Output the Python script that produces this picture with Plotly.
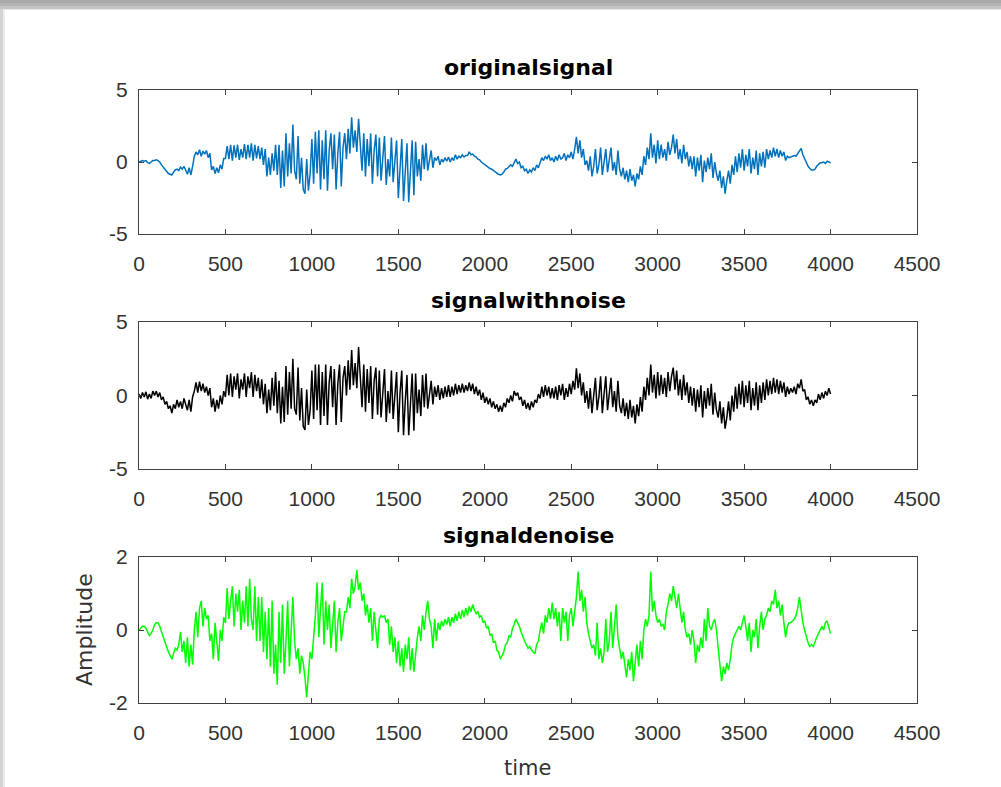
import plotly.graph_objects as go

# ---------------- data (one value every 10 time units, 0..4000) ----------------
original_signal = [
    0.0, 0.05, 0.1, 0.05, 0.1, -0.05, -0.1, 0.0, 0.1, 0.1,
    0.15, 0.1, 0.0, -0.2, -0.35, -0.5, -0.65, -0.8, -0.85, -0.9,
    -0.7, -0.55, -0.5, -0.6, -0.35, -0.5, -0.3, -0.55, -0.85, -0.4,
    -0.9, -0.3, 0.4, 0.7, 0.5, 0.85, 0.4, 0.75, 0.55, 0.8,
    0.3, 0.6, -0.55, -0.3, -0.8, -0.4, -0.75, -0.2, -0.5, 0.25,
    0.25, 1.1, 0.2, 1.2, 0.1, 1.15, 0.3, 1.2, 0.15, 0.9,
    0.3, 1.25, 0.2, 1.2, 0.3, 1.3, 0.1, 1.2, 0.25, 1.1,
    0.2, 1.0, -0.2, 0.9, -1.0, 0.3, -0.9, 0.6, -0.6, 1.2,
    -0.9, 1.2, -1.8, 0.8, -1.7, 2.0, -1.0, 1.3, -0.8, 2.6,
    -0.6, -1.2, 1.8, -1.5, 0.3, -1.9, -2.2, 0.2, -2.0, -0.8,
    1.6, -1.5, 2.1, -0.8, 2.2, -1.9, 1.5, -1.2, 2.2, -2.0,
    0.8, 2.0, -0.5, 1.9, -1.9, 0.6, 2.1, -1.7, 1.0, 2.0,
    0.2, 2.3, 0.6, 3.1, 1.0, 2.2, 0.7, 3.0, 1.2, -0.6,
    2.0, -1.0, 1.6, -0.3, 2.0, -1.5, 0.8, 1.9, -1.0, 1.7,
    -1.3, 0.4, 1.8, -1.6, 0.2, -1.0, 1.7, -1.4, 0.0, 1.5,
    -2.5, 0.0, 1.6, -2.7, -0.6, 1.3, -2.8, -0.8, 1.5, -2.3,
    1.4, -1.0, 0.2, -1.3, 1.2, -0.5, 1.3, -0.6, 0.0, 0.8,
    -0.4, 0.3, 0.1, 0.4, -0.2, 0.2, 0.0, 0.3, 0.05, 0.35,
    0.0, 0.3, 0.1, 0.5, 0.2, 0.4, 0.3, 0.5, 0.35, 0.45,
    0.45, 0.7, 0.5, 0.55, 0.4, 0.35, 0.2, 0.15, 0.0, -0.1,
    -0.2, -0.3, -0.35, -0.45, -0.5, -0.6, -0.7, -0.8, -0.85, -0.9,
    -0.85, -0.7, -0.5, -0.45, -0.3, -0.2, -0.3, -0.05, 0.2, -0.1,
    0.0, -0.4, -0.3, -0.6, -0.5, -0.8, -0.55, -0.7, -0.4, -0.6,
    -0.2, -0.4, 0.0, 0.3, 0.1, 0.4, 0.2, 0.5, 0.1, 0.3,
    0.0, 0.4, 0.1, 0.5, 0.2, 0.3, 0.6, 0.1, 0.5, 0.3,
    0.7, 0.2, 0.9, 1.75, 0.6, 1.5, 0.3, 0.9, -0.2, 0.1,
    -0.6, 0.4, -1.0, -0.3, 0.9, -0.8, -0.2, 1.0, -0.9, -0.1,
    0.9, -0.7, 0.2, 1.0, -0.6, 0.0, -0.9, 0.8, -0.5, -1.0,
    -0.4, -1.2, -0.6, -1.4, -0.5, -1.3, -0.9, -1.7, -0.8, -1.2,
    -0.3, -0.9, 0.4, -0.2, 1.0, 0.2, 2.0, 0.3, 1.2, -0.1,
    1.5, 0.2, 1.2, 0.3, 0.9, 0.1, 1.4, 0.5, 1.0, 1.9,
    0.6, 1.6, 0.2, 0.9, -0.1, 1.2, 0.2, 0.7, -0.3, 0.4,
    -0.5, 0.4, -1.0, 0.3, -0.6, 0.5, -1.4, 0.1, -0.7, 0.3,
    -0.5, 0.6, -1.1, 0.0, -0.8, -1.3, -0.6, -1.8, -1.0, -2.2,
    -1.3, -0.6, -1.5, -0.2, -0.9, 0.4, -0.7, 0.6, -0.4, 0.9,
    -0.6, 0.5, -0.3, 0.9, -0.8, 0.3, -0.5, 0.8, -0.9, 0.6,
    -0.3, 0.7, -0.4, 0.9, 0.2, 0.8, 0.3, 1.0, 0.4, 0.9,
    0.3, 0.8, 0.4, 0.7, 0.1, 0.4, 0.3, 0.35, 0.4, 0.45,
    0.4, 0.6, 0.75, 0.95, 0.5, 0.2, -0.1, -0.3, -0.45, -0.55,
    -0.55, -0.5, -0.3, -0.2, -0.05, -0.05, 0.0, -0.1, 0.05, 0.0,
    -0.05,
]

signal_with_noise = [
    0.1, -0.2, 0.2, -0.1, 0.25, -0.25, 0.1, -0.2, 0.3, 0.0,
    0.3, -0.1, 0.2, -0.3, -0.1, -0.6, -0.4, -0.9, -0.7, -1.2,
    -0.6, -0.9, -0.3, -0.8, -0.4, -0.9, -0.2, -0.7, -1.0, -0.3,
    -1.1, -0.1, 0.3, 0.9, 0.2, 0.95, 0.3, 0.8, 0.2, 0.6,
    0.0, 0.5, -0.8, -0.2, -1.1, -0.3, -0.9, 0.0, -0.6, 0.3,
    -0.1, 1.4, 0.0, 1.5, -0.1, 1.3, 0.4, 1.5, -0.2, 1.1,
    0.4, 1.5, -0.1, 1.3, 0.5, 1.6, -0.1, 1.4, 0.3, 1.2,
    -0.2, 1.1, -0.6, 0.8, -1.2, 0.4, -1.0, 1.2, -0.7, 1.6,
    -1.2, 1.0, -1.9, 0.6, -1.8, 2.0, -1.3, 1.6, -0.9, 2.5,
    -0.9, -1.3, 1.9, -1.7, 0.5, -2.1, -2.35, 0.4, -2.0, -1.0,
    1.7, -1.6, 2.1, -1.0, 2.1, -2.0, 1.6, -1.4, 2.1, -2.0,
    0.9, 2.0, -0.8, 1.8, -2.0, 0.8, 2.1, -1.8, 1.2, 2.0,
    0.0, 2.4, 0.4, 3.1, 0.7, 2.2, 0.5, 3.3, 1.0, -0.8,
    2.1, -1.1, 1.8, -0.5, 2.0, -1.6, 1.0, 1.9, -1.3, 1.7,
    -1.5, 0.6, 1.8, -1.8, 0.3, -1.2, 1.7, -1.6, 0.2, 1.6,
    -2.5, 0.2, 1.7, -2.7, -0.4, 1.4, -2.7, -0.6, 1.5, -2.4,
    1.5, -1.2, 0.4, -1.4, 1.4, -0.8, 1.5, -0.9, 0.3, 1.0,
    -0.6, 0.6, -0.1, 0.7, -0.3, 0.5, -0.2, 0.6, -0.1, 0.7,
    -0.1, 0.6, 0.0, 0.8, 0.1, 0.7, 0.2, 0.8, 0.2, 0.7,
    0.3, 0.9, 0.3, 0.8, 0.1, 0.6, 0.0, 0.4, -0.3, 0.2,
    -0.5, -0.1, -0.6, -0.2, -0.8, -0.4, -0.9, -0.6, -1.1, -0.7,
    -1.1, -0.5, -0.8, -0.2, -0.5, 0.0, -0.4, 0.3, 0.0, 0.2,
    -0.3, -0.1, -0.7, -0.3, -0.9, -0.5, -1.0, -0.4, -0.8, -0.3,
    -0.5, 0.1, -0.2, 0.6, -0.1, 0.7, 0.0, 0.6, -0.2, 0.5,
    -0.2, 0.6, -0.3, 0.7, 0.0, 0.8, -0.3, 0.5, -0.1, 0.8,
    0.1, 1.0, 0.4, 1.85, 0.5, 1.5, 0.0, 0.9, -0.5, 0.3,
    -0.9, 0.5, -1.2, 0.0, 1.2, -1.0, -0.1, 1.3, -1.2, 0.1,
    1.3, -1.0, 0.4, 1.2, -0.8, 0.3, -1.1, 1.0, -0.7, -1.2,
    -0.2, -1.4, -0.5, -1.6, -0.3, -1.5, -0.7, -1.9, -0.6, -1.4,
    -0.1, -1.1, 0.6, -0.3, 1.2, 0.0, 2.1, 0.2, 1.4, -0.2,
    1.6, 0.0, 1.4, 0.1, 1.2, -0.1, 1.6, 0.3, 1.3, 1.9,
    0.4, 1.7, 0.0, 1.1, -0.3, 1.4, 0.0, 0.9, -0.5, 0.6,
    -0.7, 0.5, -1.1, 0.4, -0.8, 0.7, -1.5, 0.3, -0.9, 0.5,
    -0.7, 0.8, -1.3, 0.2, -1.0, -1.5, -0.4, -1.9, -0.8, -2.25,
    -1.5, -0.4, -1.7, 0.0, -1.1, 0.6, -0.9, 0.8, -0.6, 1.0,
    -0.8, 0.7, -0.5, 1.0, -1.0, 0.5, -0.7, 0.9, -1.0, 0.7,
    -0.5, 0.9, -0.3, 1.1, 0.0, 1.0, 0.1, 1.2, 0.2, 1.1,
    0.1, 1.0, 0.2, 0.9, -0.1, 0.6, 0.1, 0.5, 0.2, 0.6,
    0.1, 0.8, 0.5, 1.1, 0.3, 0.4, -0.3, -0.1, -0.6, -0.3,
    -0.7, -0.3, -0.5, 0.1, -0.3, 0.2, -0.2, 0.3, 0.0, 0.5,
    0.1,
]

signal_denoise = [
    0.0, 0.05, 0.1, 0.1, 0.05, -0.05, -0.15, -0.1, 0.0, 0.15,
    0.2, 0.2, 0.1, -0.05, -0.2, -0.35, -0.5, -0.6, -0.7, -0.8,
    -0.65, -0.5, -0.55, -0.4, -0.05, -0.6, -0.3, -0.9, -0.2, -1.0,
    -0.4, -0.95, 0.0, 0.5, -0.2, 0.6, 0.8, 0.1, 0.6, 0.3,
    0.4, -0.3, -0.1, -0.8, 0.2, -0.4, -0.85, 0.0, -0.3, 0.35,
    0.2, 1.15, 0.3, 0.8, 1.2, 0.1, 1.0, 0.5, 1.1, 0.0,
    0.8, 0.2, 1.2, 0.1, 1.4, 0.3, 0.0, 1.2, -0.3, 0.9,
    -0.3, 0.9, -0.6, 0.5, -0.8, 0.6, -1.0, 0.8, -1.2, -0.4,
    -1.5, 0.5, -0.9, 0.7, -1.2, -0.3, 0.8, -1.0, 0.2, 0.9,
    -0.3, -0.8, -0.5, -1.2, -0.7, -0.9, -1.3, -1.85, -1.2, -0.6,
    -0.8, -0.3, 0.4, 1.3, -0.2, 0.6, 1.3, -0.4, 0.8, 0.0,
    0.7, -0.5, 0.3, 0.8, -0.6, 0.2, 0.6, -0.3, 0.1, 0.5,
    0.5, 0.9, 0.6, 1.4, 1.0, 1.2, 1.65, 1.1, 1.3, 0.8,
    1.0, 0.4, 0.7, 0.2, 0.6, -0.3, 0.5, 0.0, -0.5, 0.3,
    0.4, 0.35, 0.4, 0.2, 0.3, -0.4, 0.1, -0.6, -0.2, -0.9,
    -0.3, -1.0, -0.5, -1.15, -0.4, -0.8, -0.2, -1.1, -0.5, -1.15,
    -0.6, -0.2, 0.1, -0.3, 0.4, 0.0, 0.5, 0.8, 0.3, 0.1,
    -0.5, 0.3, -0.3, 0.2, 0.0, 0.25, 0.1, 0.3, 0.15, 0.35,
    0.1, 0.35, 0.2, 0.45, 0.25, 0.5, 0.3, 0.55, 0.35, 0.6,
    0.4, 0.65, 0.5, 0.7, 0.55, 0.45, 0.5, 0.35, 0.4, 0.2,
    0.25, 0.05, 0.1, -0.15, -0.1, -0.35, -0.3, -0.55, -0.6, -0.8,
    -0.7, -0.6, -0.4, -0.35, -0.15, -0.2, 0.05, 0.15, 0.3, 0.2,
    0.1, -0.05, -0.2, -0.3, -0.4, -0.5, -0.45, -0.55, -0.6, -0.65,
    -0.4, -0.3, 0.0, 0.2, -0.1, 0.4, 0.2, 0.6, 0.3, 0.75,
    0.3, 0.6, 0.1, 0.5, -0.3, 0.6, 0.2, 0.5, -0.3, 0.4,
    0.6, 0.1, 0.5, 0.9, 1.6, 0.8, 1.1, 0.5, 0.9, 0.2,
    -0.1, -0.3, -0.5, -0.4, -0.7, 0.2, -0.8, -0.5, -0.9, -0.6,
    0.3, -0.6, -0.3, 0.5, -0.5, 0.1, 0.7, -0.2, -0.5, -0.8,
    -0.6, -0.9, -1.3, -0.8, -1.1, -0.6, -1.4, -0.9, -0.4, -1.0,
    -0.3, -0.8, 0.0, 0.3, 0.1, 0.4, 1.6, 0.5, 0.8, 0.4,
    0.2, 0.3, 0.1, 0.15, 0.0, 0.5, 0.7, 1.0, 0.8, 1.2,
    0.9, 0.6, 1.0, 0.5, 0.2, 0.5, 0.0, -0.2, -0.1, -0.4,
    0.0, -0.3, -0.9, -0.4, -0.6, -0.2, -0.5, 0.3, -0.3, 0.6,
    0.1, 0.0, 0.2, 0.3, 0.0, -0.5, -0.9, -1.4, -1.0, -1.2,
    -0.9, -1.1, -0.8, -0.4, -0.2, -0.1, 0.0, 0.1, 0.0, 0.2,
    0.4, 0.1, -0.3, 0.2, -0.6, 0.0, -0.2, 0.3, -0.5, 0.1,
    0.5, 0.0, 0.3, 0.4, 0.6, 0.5, 0.8, 0.7, 1.1, 0.6,
    0.8, 0.4, 0.7, 0.2, -0.2, 0.1, 0.2, 0.2, 0.25, 0.3,
    0.4, 0.6, 0.9, 0.5, 0.2, 0.0, -0.2, -0.35, -0.45, -0.4,
    -0.45, -0.3, -0.2, -0.1, 0.0, 0.1, 0.0, 0.2, 0.25, 0.1,
    -0.1,
]

sample_step = 10
titles = ["originalsignal", "signalwithnoise", "signaldenoise"]
x_ticks = [0, 500, 1000, 1500, 2000, 2500, 3000, 3500, 4000, 4500]
y_ticks_top = [-5, 0, 5]
y_ticklabels_top = ["-5", "0", "5"]
y_ticks_bottom = [-2, 0, 2]
y_ticklabels_bottom = ["-2", "0", "2"]
x_label = "time"
y_label = "Amplitude"

# ---------------- figure ----------------
W, H = 1001, 787
def py(p):  # pixel (from top) -> paper fraction
    return 1 - p / H

x_dom = [139 / W, 917 / W]
panels = [
    dict(sig=original_signal, color="#0072BD", top=90, bot=234, rng=[-5, 5],
         ticks=y_ticks_top, labels=y_ticklabels_top, ty=68),
    dict(sig=signal_with_noise, color="#000000", top=322, bot=469, rng=[-5, 5],
         ticks=y_ticks_top, labels=y_ticklabels_top, ty=300),
    dict(sig=signal_denoise, color="#00FF00", top=557, bot=703, rng=[-2, 2],
         ticks=y_ticks_bottom, labels=y_ticklabels_bottom, ty=535),
]

fig = go.Figure()
tick_font = dict(family="Liberation Sans, Arial, sans-serif", size=21, color="#333333")
axis_common = dict(showline=True, linecolor="#404040", linewidth=1, mirror="ticks",
                   ticks="inside", ticklen=5, tickcolor="#404040", tickwidth=1,
                   showgrid=False, zeroline=False, tickfont=tick_font, automargin=False)

annotations = []
for i, p in enumerate(panels):
    n = i + 1
    xa = "x" if n == 1 else f"x{n}"
    ya = "y" if n == 1 else f"y{n}"
    t = [sample_step * k for k in range(len(p["sig"]))]
    fig.add_trace(go.Scatter(x=t, y=p["sig"], mode="lines",
                             line=dict(color=p["color"], width=1.5),
                             xaxis=xa, yaxis=ya, showlegend=False, hoverinfo="skip"))
    xkey = "xaxis" if n == 1 else f"xaxis{n}"
    ykey = "yaxis" if n == 1 else f"yaxis{n}"
    fig.update_layout({
        xkey: dict(domain=x_dom, anchor=ya, range=[0, 4500], tickvals=x_ticks,
                   ticktext=[str(v) for v in x_ticks],
                   ticklabelstandoff=11, **axis_common),
        ykey: dict(domain=[py(p["bot"]), py(p["top"])], anchor=xa, range=p["rng"],
                   tickvals=p["ticks"], ticktext=p["labels"], ticklabelstandoff=6, **axis_common),
    })
    annotations.append(dict(text=f"<b>{titles[i]}</b>", x=528 / W, y=py(p["ty"]),
                            xref="paper", yref="paper", xanchor="center", yanchor="middle",
                            showarrow=False,
                            font=dict(family="DejaVu Sans, sans-serif", size=22, color="#000000")))

annotations.append(dict(text=x_label, x=527 / W, y=py(768), xref="paper", yref="paper",
                        xanchor="center", yanchor="middle", showarrow=False,
                        font=dict(family="DejaVu Sans, sans-serif", size=21, color="#333333")))
annotations.append(dict(text=y_label, x=84 / W, y=py(630), xref="paper", yref="paper",
                        xanchor="center", yanchor="middle", showarrow=False, textangle=-90,
                        font=dict(family="DejaVu Sans, sans-serif", size=22, color="#333333")))

# screenshot frame: grey shade along top and left edges
shapes = [
    dict(type="rect", xref="paper", yref="paper", x0=0, x1=1, y0=py(3), y1=1,
         fillcolor="#a9a9a9", line=dict(width=0), layer="above"),
    dict(type="rect", xref="paper", yref="paper", x0=0, x1=1, y0=py(6), y1=py(3),
         fillcolor="#b4b4b4", line=dict(width=0), layer="above"),
    dict(type="rect", xref="paper", yref="paper", x0=0, x1=1, y0=py(9), y1=py(6),
         fillcolor="#c4c4c4", line=dict(width=0), layer="above"),
    dict(type="rect", xref="paper", yref="paper", x0=0, x1=1, y0=py(10), y1=py(9),
         fillcolor="#e6e6e6", line=dict(width=0), layer="above"),
    dict(type="rect", xref="paper", yref="paper", x0=0, x1=3 / W, y0=0, y1=py(9),
         fillcolor="#d4d4d4", line=dict(width=0), layer="above"),
    dict(type="rect", xref="paper", yref="paper", x0=3 / W, x1=5 / W, y0=0, y1=py(9),
         fillcolor="#ececec", line=dict(width=0), layer="above"),
]

fig.update_layout(width=W, height=H, margin=dict(l=0, r=0, t=0, b=0),
                  paper_bgcolor="white", plot_bgcolor="white",
                  annotations=annotations, shapes=shapes)

fig.write_html("out.html", config={"displayModeBar": False})
